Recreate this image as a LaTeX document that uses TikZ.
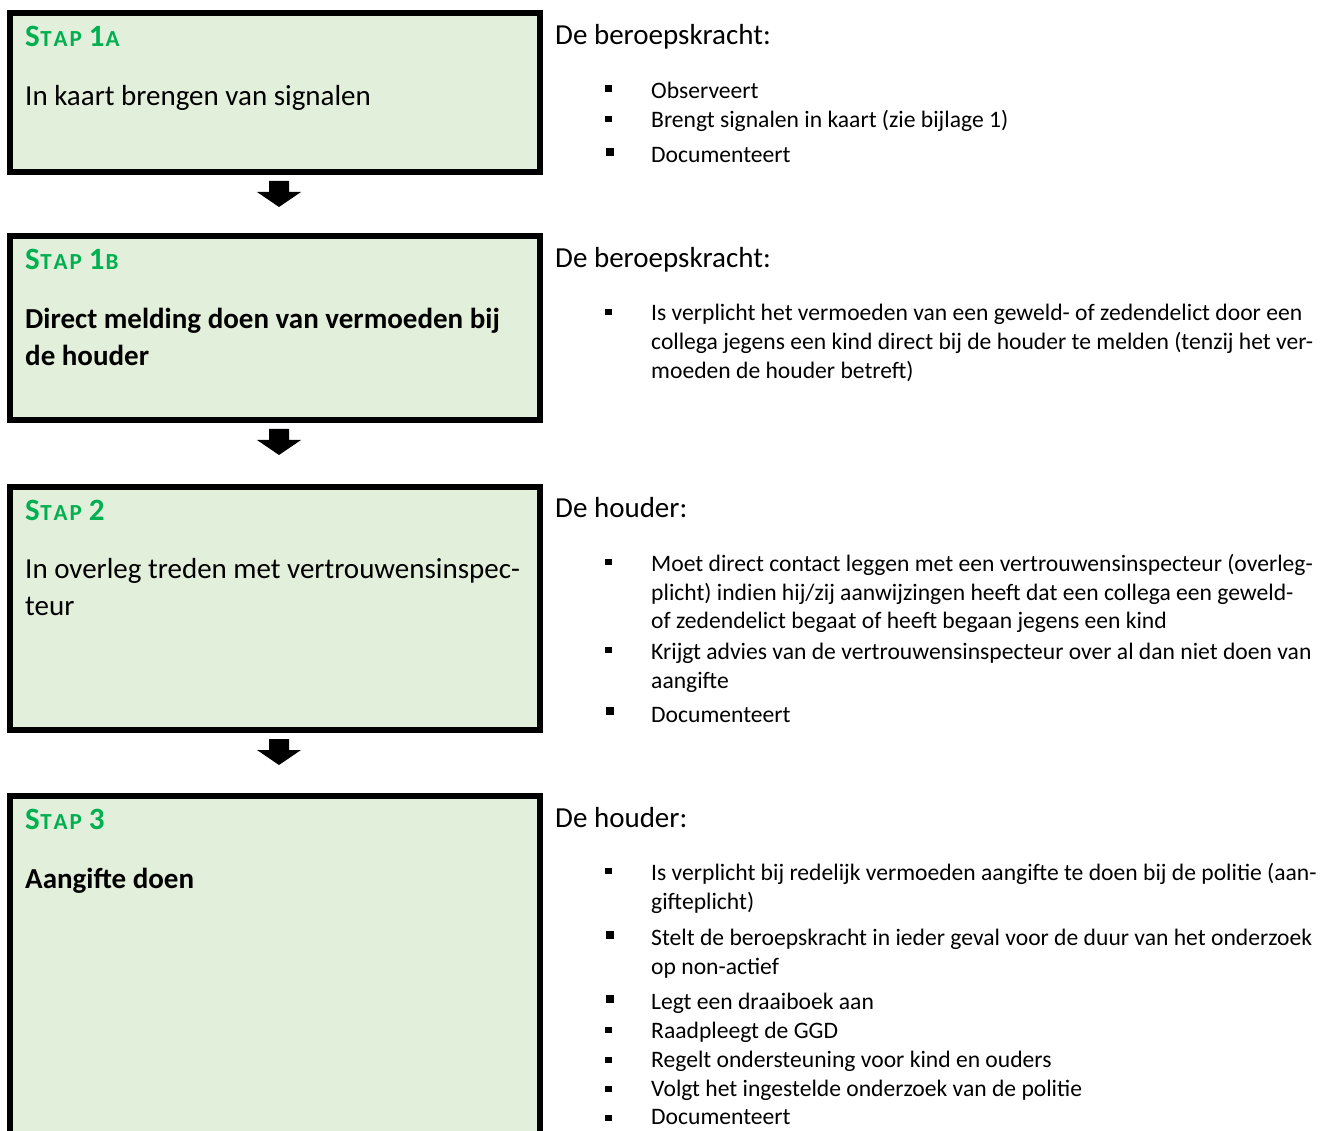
\documentclass[tikz,border=0pt]{standalone}
\usepackage{fontspec}
\setmainfont{Carlito}
\usetikzlibrary{calc}
\definecolor{boxfill}{HTML}{E2EFDA}
\definecolor{stapgreen}{HTML}{00B050}
\newcommand\stapsc[1]{{\fontsize{23}{23}\selectfont #1}}
\newcommand\staphead[2]{\fontsize{31}{31}\selectfont\bfseries S\kern0.5pt\stapsc{T\kern2pt A\kern2pt P} #1\kern1pt\stapsc{#2}}
\newcommand\flowarrow[1]{\fill ($(#1.south)+(-6,9)$) -- ($(#1.south)+(14,9)$) -- ($(#1.south)+(14,20)$) -- ($(#1.south)+(26,20)$) -- ($(#1.south)+(4,35)$) -- ($(#1.south)+(-18,20)$) -- ($(#1.south)+(-6,20)$) -- cycle;}
\begin{document}
\begin{tikzpicture}[x=1pt,y=-1pt,
  stepbox/.style={draw=black,line width=6pt,fill=boxfill,anchor=north west,inner sep=0pt,outer sep=0pt,minimum width=530pt},
  stephead/.style={anchor=base west,text=stapgreen,inner sep=0pt},
  boxtext/.style={anchor=base west,inner sep=0pt,font=\fontsize{29}{37}\selectfont},
  boxbold/.style={boxtext,font=\fontsize{29}{37}\selectfont\bfseries},
  rhead/.style={anchor=base west,inner sep=0pt,font=\fontsize{29}{35}\selectfont},
  btext/.style={anchor=base west,inner sep=0pt,font=\fontsize{23.6}{29}\selectfont},
  bsq/.style={fill=black,inner sep=0pt,minimum size=6.5pt},
  bsqbig/.style={bsq,minimum size=8pt}]
\useasboundingbox (0,0) rectangle (1323,1131);
\fill[white] (0,0) rectangle (1323,1131);
% boxes
\node[stepbox,minimum height=158.5pt] (b1) at (10,13.5) {};
\node[stepbox,minimum height=183.5pt] (b2) at (10,236.5) {};
\node[stepbox,minimum height=243pt] (b3) at (10,487) {};
\begin{scope}
\clip (0,0) rectangle (1323,1131);
\node[stepbox,minimum height=350pt] (b4) at (10,796) {};
\end{scope}
% arrows
\flowarrow{b1}
\flowarrow{b2}
\flowarrow{b3}
% box texts
\node[stephead] (h1) at (25,46.7) {\staphead{1}{A}};
\node[boxtext] (t1) at (25,106) {In kaart brengen van signalen};
\node[stephead] (h2) at (25,269.7) {\staphead{1}{B}};
\node[boxbold] (t2a) at (25,328.5) {Direct melding doen van vermoeden bij};
\node[boxbold] (t2b) at (25,365.5) {de houder};
\node[stephead] (h3) at (25,520) {\staphead{2}{}};
\node[boxtext] (t3a) at (25,578) {In overleg treden met vertrouwensinspec-};
\node[boxtext] (t3b) at (25,615) {teur};
\node[stephead] (h4) at (25,829) {\staphead{3}{}};
\node[boxbold] (t4) at (25,888) {Aangifte doen};
% right headings
\node[rhead] (r1) at (555,45) {De beroepskracht:};
\node[rhead] (r2) at (555,268) {De beroepskracht:};
\node[rhead] (r3) at (555,517.5) {De houder:};
\node[rhead] (r4) at (555,827.5) {De houder:};
% group 1
\node[bsq] (q11) at (608.5,88.5) {};
\node[btext] (l11) at (651,98.5) {Observeert};
\node[bsq] (q12) at (608.5,119) {};
\node[btext] (l12) at (651,128) {Brengt signalen in kaart (zie bijlage 1)};
\node[bsqbig] (q13) at (609.5,152) {};
\node[btext] (l13) at (651,163) {Documenteert};
% group 2
\node[bsq] (q21) at (608.5,312) {};
\node[btext] (l21a) at (651,321) {Is verplicht het vermoeden van een geweld- of zedendelict door een};
\node[btext] (l21b) at (651,350) {collega jegens een kind direct bij de houder te melden (tenzij het ver-};
\node[btext] (l21c) at (651,379) {moeden de houder betreft)};
% group 3
\node[bsq] (q31) at (608.5,562) {};
\node[btext] (l31a) at (651,571) {Moet direct contact leggen met een vertrouwensinspecteur (overleg-};
\node[btext] (l31b) at (651,600) {plicht) indien hij/zij aanwijzingen heeft dat een collega een geweld-};
\node[btext] (l31c) at (651,628.5) {of zedendelict begaat of heeft begaan jegens een kind};
\node[bsq] (q32) at (608.5,650) {};
\node[btext] (l32a) at (651,659) {Krijgt advies van de vertrouwensinspecteur over al dan niet doen van};
\node[btext] (l32b) at (651,688) {aangifte};
\node[bsqbig] (q33) at (609.5,711) {};
\node[btext] (l33) at (651,722.5) {Documenteert};
% group 4
\node[bsq] (q41) at (608.5,871) {};
\node[btext] (l41a) at (651,880) {Is verplicht bij redelijk vermoeden aangifte te doen bij de politie (aan-};
\node[btext] (l41b) at (651,909) {gifteplicht)};
\node[bsqbig] (q42) at (609.5,934.5) {};
\node[btext] (l42a) at (651,945) {Stelt de beroepskracht in ieder geval voor de duur van het onderzoek};
\node[btext] (l42b) at (651,974) {op non-actief};
\node[bsqbig] (q43) at (609.5,998.5) {};
\node[btext] (l43) at (651,1009) {Legt een draaiboek aan};
\node[bsq] (q44) at (608.5,1030) {};
\node[btext] (l44) at (651,1038) {Raadpleegt de GGD};
\node[bsq] (q45) at (608.5,1060) {};
\node[btext] (l45) at (651,1067) {Regelt ondersteuning voor kind en ouders};
\node[bsq] (q46) at (608.5,1089) {};
\node[btext] (l46) at (651,1096) {Volgt het ingestelde onderzoek van de politie};
\node[bsq] (q47) at (608.5,1118) {};
\node[btext] (l47) at (651,1124.5) {Documenteert};
\end{tikzpicture}
\end{document}
